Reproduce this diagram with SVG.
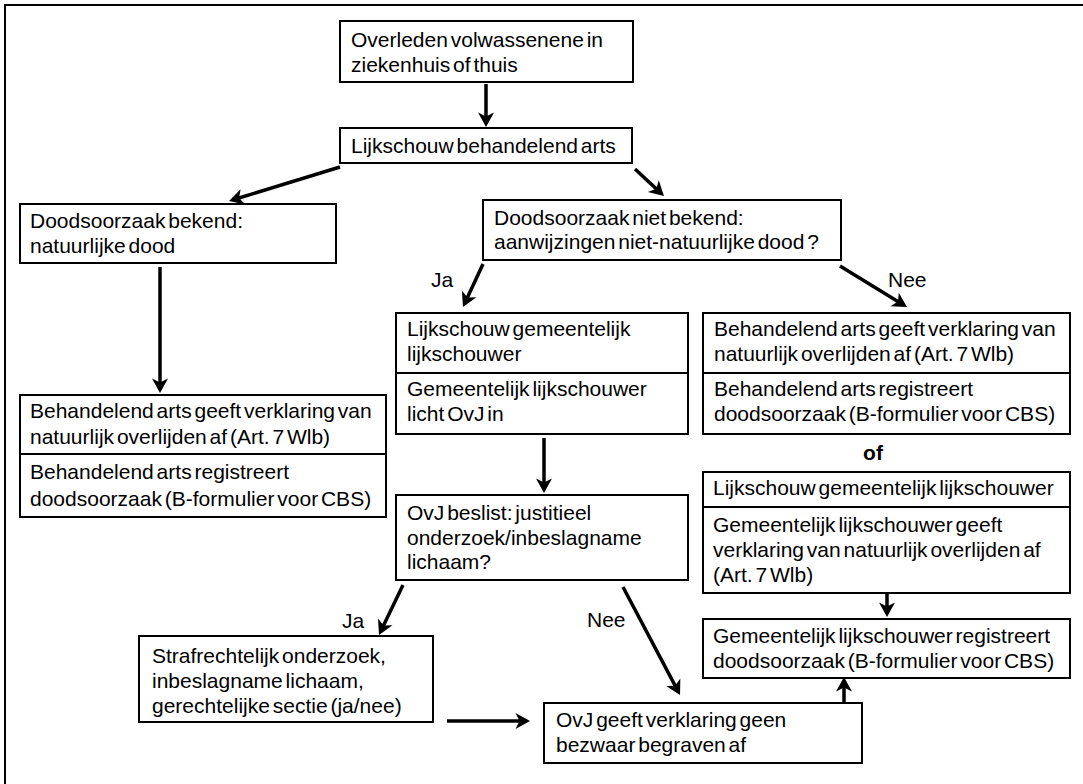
<svg xmlns="http://www.w3.org/2000/svg" width="1083" height="784" viewBox="0 0 1083 784">
<style>
.box{fill:#fff;stroke:#000;stroke-width:2}
.div{stroke:#000;stroke-width:2}
text{font-family:"Liberation Sans",Arial,sans-serif;font-size:21px;word-spacing:-3px;fill:#000}
.b{font-weight:bold}
.arr{stroke:#000;stroke-width:3.5;fill:none;marker-end:url(#ah)}
</style>
<defs>
<marker id="ah" markerUnits="userSpaceOnUse" viewBox="-14 -10 20 20" markerWidth="20" markerHeight="20" refX="0" refY="0" orient="auto" overflow="visible">
<path d="M3.5,0 L-11,-8 L-7,0 L-11,8 Z" fill="#000"/>
</marker>
</defs>
<rect x="0" y="0" width="1083" height="784" fill="#fff"/>
<path d="M5,790 V5 H1090" fill="none" stroke="#000" stroke-width="2"/>

<g id="connectors">
<line class="arr" x1="486" y1="84" x2="486" y2="123.5"/>
<line class="arr" x1="340" y1="167" x2="232.4" y2="200"/>
<line class="arr" x1="635" y1="169" x2="661.4" y2="193.6"/>
<line class="arr" x1="160" y1="267" x2="160" y2="389.5"/>
<line class="arr" x1="483" y1="264" x2="464.5" y2="303.8"/>
<line class="arr" x1="840" y1="266" x2="904" y2="305.2"/>
<line class="arr" x1="544" y1="438" x2="544" y2="489.5"/>
<line class="arr" x1="403" y1="585" x2="380.5" y2="631.8"/>
<line class="arr" x1="623" y1="587" x2="678.4" y2="691.9"/>
<line class="arr" x1="447" y1="721" x2="526.5" y2="721"/>
<line class="arr" x1="887" y1="594" x2="887" y2="613.5"/>
<line class="arr" x1="844" y1="703" x2="844" y2="680.5"/>
<text x="431" y="287">Ja</text>
<text x="888" y="287">Nee</text>
<text x="587" y="627">Nee</text>
<text x="342" y="628">Ja</text>
</g>

<g id="n1">
<rect class="box" x="340" y="21" width="293" height="61"/>
<text x="351" y="47">Overleden volwassenene in</text>
<text x="351" y="72">ziekenhuis of thuis</text>
</g>
<g id="n2">
<rect class="box" x="340" y="128" width="292" height="35"/>
<text x="351" y="153">Lijkschouw behandelend arts</text>
</g>
<g id="n3">
<rect class="box" x="20" y="204" width="316" height="59"/>
<text x="30" y="228">Doodsoorzaak bekend:</text>
<text x="30" y="253">natuurlijke dood</text>
</g>
<g id="n4">
<rect class="box" x="483" y="200" width="358" height="60"/>
<text x="494" y="225">Doodsoorzaak niet bekend:</text>
<text x="494" y="249">aanwijzingen niet-natuurlijke dood ?</text>
</g>
<g id="n5">
<rect class="box" x="20" y="395" width="366" height="122"/>
<line class="div" x1="20" y1="454" x2="386" y2="454"/>
<text x="30" y="418">Behandelend arts geeft verklaring van</text>
<text x="30" y="444">natuurlijk overlijden af (Art. 7 Wlb)</text>
<text x="30" y="479">Behandelend arts registreert</text>
<text x="30" y="506">doodsoorzaak (B-formulier voor CBS)</text>
</g>
<g id="n6">
<rect class="box" x="396" y="313" width="292" height="121"/>
<line class="div" x1="396" y1="373" x2="688" y2="373"/>
<text x="407" y="336">Lijkschouw gemeentelijk</text>
<text x="407" y="361">lijkschouwer</text>
<text x="407" y="396">Gemeentelijk lijkschouwer</text>
<text x="407" y="421">licht OvJ in</text>
</g>
<g id="n7">
<rect class="box" x="703" y="313" width="367" height="121"/>
<line class="div" x1="703" y1="373" x2="1070" y2="373"/>
<text x="714" y="336">Behandelend arts geeft verklaring van</text>
<text x="714" y="361">natuurlijk overlijden af (Art. 7 Wlb)</text>
<text x="714" y="396">Behandelend arts registreert</text>
<text x="714" y="421">doodsoorzaak (B-formulier voor CBS)</text>
</g>
<g id="of">
<text class="b" x="873" y="460" text-anchor="middle">of</text>
</g>
<g id="n8">
<rect class="box" x="703" y="472" width="367" height="121"/>
<line class="div" x1="703" y1="507" x2="1070" y2="507"/>
<text x="713" y="495">Lijkschouw gemeentelijk lijkschouwer</text>
<text x="713" y="532">Gemeentelijk lijkschouwer geeft</text>
<text x="713" y="557">verklaring van natuurlijk overlijden af</text>
<text x="713" y="582">(Art. 7 Wlb)</text>
</g>
<g id="n9">
<rect class="box" x="703" y="619" width="367" height="59"/>
<text x="713" y="643">Gemeentelijk lijkschouwer registreert</text>
<text x="713" y="668">doodsoorzaak (B-formulier voor CBS)</text>
</g>
<g id="n10">
<rect class="box" x="544" y="703" width="318" height="60"/>
<text x="556" y="727">OvJ geeft verklaring geen</text>
<text x="556" y="752">bezwaar begraven af</text>
</g>
<g id="n11">
<rect class="box" x="396" y="495" width="292" height="85"/>
<text x="407" y="520">OvJ beslist: justitieel</text>
<text x="407" y="545">onderzoek/inbeslagname</text>
<text x="407" y="569">lichaam?</text>
</g>
<g id="n12">
<rect class="box" x="139" y="636" width="294" height="86"/>
<text x="152" y="663">Strafrechtelijk onderzoek,</text>
<text x="152" y="688">inbeslagname lichaam,</text>
<text x="152" y="713">gerechtelijke sectie (ja/nee)</text>
</g>
</svg>
